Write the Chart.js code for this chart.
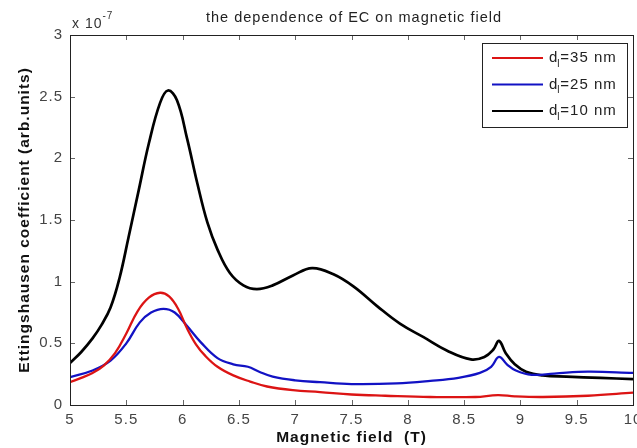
<!DOCTYPE html>
<html>
<head>
<meta charset="utf-8">
<script src="https://cdn.jsdelivr.net/npm/chart.js@4/dist/chart.umd.min.js"></script>
<style>
  html, body { margin: 0; padding: 0; background: #fff; }
  #wrap { width: 637px; height: 448px; }
</style>
</head>
<body>
<div id="wrap"><canvas id="myChart" width="637" height="448"></canvas></div>
<script>
// Series data (y in units of 1e-7)
const seriesLabels = ["35 nm", "25 nm", "10 nm"]

const redX = [5.0, 5.1, 5.2, 5.3, 5.4, 5.5, 5.6, 5.7, 5.8, 5.88, 5.96, 6.04, 6.12, 6.2, 6.31, 6.45, 6.6, 6.75, 6.98, 7.22, 7.5, 7.8, 8.2, 8.6, 8.8, 8.95, 9.2, 9.6, 10.0]
const redY = [0.185, 0.22, 0.26, 0.32, 0.42, 0.58, 0.76, 0.87, 0.91, 0.88, 0.78, 0.62, 0.49, 0.40, 0.31, 0.24, 0.19, 0.15, 0.12, 0.105, 0.085, 0.075, 0.065, 0.065, 0.08, 0.07, 0.065, 0.075, 0.10]

const blueX = [5.0, 5.2, 5.36, 5.5, 5.62, 5.72, 5.83, 5.93, 6.04, 6.16, 6.31, 6.45, 6.58, 6.68, 6.8, 7.0, 7.22, 7.5, 7.9, 8.2, 8.45, 8.64, 8.74, 8.81, 8.88, 8.96, 9.1, 9.3, 9.6, 10.0]
const blueY = [0.226, 0.28, 0.36, 0.50, 0.67, 0.75, 0.78, 0.75, 0.64, 0.51, 0.38, 0.33, 0.31, 0.27, 0.23, 0.20, 0.185, 0.17, 0.175, 0.195, 0.22, 0.26, 0.31, 0.39, 0.33, 0.28, 0.245, 0.255, 0.27, 0.26]

const blackX = [5.0, 5.1, 5.2, 5.28, 5.36, 5.44, 5.52, 5.61, 5.7, 5.8, 5.87, 5.95, 6.04, 6.13, 6.22, 6.31, 6.42, 6.54, 6.66, 6.8, 6.98, 7.15, 7.34, 7.52, 7.73, 7.93, 8.14, 8.35, 8.56, 8.68, 8.76, 8.81, 8.87, 8.95, 9.05, 9.2, 9.41, 9.71, 10.0]
const blackY = [0.34, 0.43, 0.54, 0.65, 0.79, 1.03, 1.36, 1.74, 2.12, 2.45, 2.55, 2.47, 2.16, 1.80, 1.48, 1.26, 1.07, 0.97, 0.94, 0.97, 1.05, 1.11, 1.06, 0.96, 0.80, 0.66, 0.55, 0.44, 0.37, 0.39, 0.45, 0.52, 0.42, 0.33, 0.27, 0.24, 0.23, 0.22, 0.21]

const xTicks = [5, 5.5, 6, 6.5, 7, 7.5, 8, 8.5, 9, 9.5, 10]
const yTicks = [0, 0.5, 1, 1.5, 2, 2.5, 3]

// Zip x and y arrays into points
function toPoints(xs, ys){
    let pts = []
    for (let i=0; i<xs.length; i++){
        pts.push({x: xs[i], y: ys[i]})
    }
    return pts
}

const FONT = "'Liberation Sans', Arial, sans-serif"

// Wider letter spacing for every text on the canvas
const spacing = {
    id: 'spacing',
    beforeDraw(chart){
        chart.ctx.letterSpacing = '1px'
    }
}

// Box, inward ticks, title, exponent and legend
const matlabLook = {
    id: 'matlabLook',
    afterDraw(chart){
        const ctx = chart.ctx
        const a = chart.chartArea
        const xs = chart.scales.x
        const ys = chart.scales.y
        ctx.save()
        ctx.letterSpacing = '1px'

        // ticks
        ctx.strokeStyle = '#666'
        ctx.lineWidth = 1
        ctx.beginPath()
        xTicks.forEach(v => {
            let px = Math.round(xs.getPixelForValue(v)) + 0.5
            ctx.moveTo(px, a.bottom); ctx.lineTo(px, a.bottom - 5)
            ctx.moveTo(px, a.top); ctx.lineTo(px, a.top + 5)
        })
        yTicks.forEach(v => {
            let py = Math.round(ys.getPixelForValue(v)) + 0.5
            ctx.moveTo(a.left, py); ctx.lineTo(a.left + 5, py)
            ctx.moveTo(a.right, py); ctx.lineTo(a.right - 5, py)
        })
        ctx.stroke()

        // box
        ctx.strokeStyle = '#222'
        ctx.strokeRect(Math.round(a.left) + 0.5, Math.round(a.top) + 0.5, Math.round(a.right - a.left), Math.round(a.bottom - a.top))

        // title
        ctx.fillStyle = '#222'
        ctx.font = '14.5px ' + FONT
        ctx.textAlign = 'center'
        ctx.textBaseline = 'middle'
        ctx.fillText('the dependence of EC on magnetic field', 354, 18)

        // exponent
        ctx.textAlign = 'left'
        ctx.fillStyle = '#333'
        ctx.font = '14px ' + FONT
        ctx.fillText('x 10', 72, 24)
        let w = ctx.measureText('x 10').width
        ctx.font = '10px ' + FONT
        ctx.fillText('-7', 72 + w, 16)

        // legend
        const lx = 482, ly = 43, lw = 145, lh = 84
        ctx.fillStyle = '#fff'
        ctx.fillRect(lx, ly, lw, lh)
        ctx.strokeStyle = '#222'
        ctx.strokeRect(lx + 0.5, ly + 0.5, lw, lh)
        chart.data.datasets.forEach((ds, i) => {
            let y = ly + 15 + i * 26.5
            ctx.strokeStyle = ds.borderColor
            ctx.lineWidth = 2
            ctx.beginPath()
            ctx.moveTo(lx + 10, y); ctx.lineTo(lx + 61, y)
            ctx.stroke()
            ctx.fillStyle = '#222'
            ctx.font = '15px ' + FONT
            ctx.textBaseline = 'middle'
            ctx.fillText('d', lx + 67, y)
            let dw = ctx.measureText('d').width
            ctx.font = '10px ' + FONT
            ctx.fillText('l', lx + 66 + dw, y + 6)
            ctx.font = '15px ' + FONT
            ctx.fillText('=' + seriesLabels[i], lx + 67 + dw + 2, y)
        })
        ctx.restore()
    }
}

const data = {
    datasets: [
        {
            label: 'd=' + seriesLabels[0],
            data: toPoints(redX, redY),
            borderColor: '#dc1414',
            borderWidth: 2.3
        },
        {
            label: 'd=' + seriesLabels[1],
            data: toPoints(blueX, blueY),
            borderColor: '#1212c4',
            borderWidth: 2.3
        },
        {
            label: 'd=' + seriesLabels[2],
            data: toPoints(blackX, blackY),
            borderColor: '#000000',
            borderWidth: 2.7
        }
    ]
}

const config = {
    type: 'line',
    data: data,
    options: {
        responsive: false,
        animation: false,
        events: [],
        layout: { padding: { top: 35, right: 4, left: 0, bottom: 0 } },
        elements: {
            point: { radius: 0 },
            line: { tension: 0.4, fill: false }
        },
        plugins: {
            legend: { display: false },
            tooltip: { enabled: false }
        },
        scales: {
            x: {
                type: 'linear',
                min: 5,
                max: 10,
                afterBuildTicks: s => { s.ticks = xTicks.map(v => ({value: v})) },
                afterFit: s => { s.height = 43; s.paddingLeft = 0; s.paddingRight = 0 },
                grid: { display: false },
                border: { display: false },
                ticks: {
                    padding: -2,
                    color: '#444',
                    font: { family: FONT, size: 15 },
                    maxRotation: 0,
                    autoSkip: false,
                    callback: v => String(v)
                },
                title: {
                    display: true,
                    text: 'Magnetic field  (T)',
                    color: '#111',
                    padding: { top: 0, bottom: 1 },
                    font: { family: FONT, size: 15.5, weight: 'bold' }
                }
            },
            y: {
                min: 0,
                max: 3,
                afterBuildTicks: s => { s.ticks = yTicks.map(v => ({value: v})) },
                afterFit: s => { s.width = 70; s.paddingTop = 0; s.paddingBottom = 0 },
                grid: { display: false },
                border: { display: false },
                ticks: {
                    padding: -1,
                    color: '#444',
                    font: { family: FONT, size: 15 },
                    callback: v => String(v)
                },
                title: {
                    display: true,
                    text: 'Ettingshausen coefficient (arb.units)',
                    color: '#111',
                    padding: { top: 15, bottom: 0 },
                    font: { family: FONT, size: 15.5, weight: 'bold' }
                }
            }
        }
    },
    plugins: [spacing, matlabLook]
}

document.addEventListener("DOMContentLoaded", function(){
    new Chart(document.getElementById('myChart'), config)
})
</script>
</body>
</html>
